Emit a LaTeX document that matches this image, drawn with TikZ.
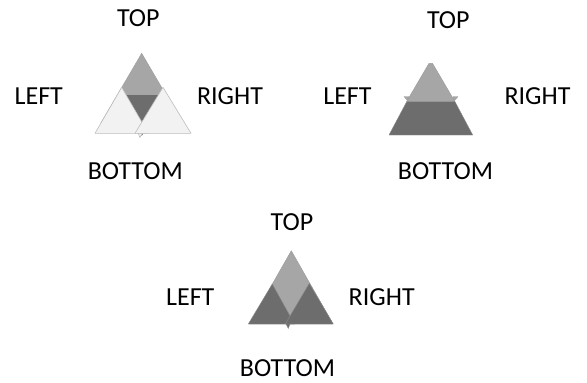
\documentclass[tikz,border=0pt]{standalone}
\usepackage{fontspec}
\setmainfont{Carlito}
\definecolor{lightfill}{HTML}{F2F2F2}
\definecolor{lightline}{HTML}{BDBDBD}
\definecolor{midgray}{HTML}{A6A6A6}
\definecolor{midline}{HTML}{9C9C9C}
\definecolor{darkgray}{HTML}{6D6D6D}
\definecolor{darkline}{HTML}{8C8C8C}
\tikzset{
  lbl/.style={inner sep=0pt, anchor=base, font=\fontsize{26}{30}\selectfont},
  lightpc/.style={fill=lightfill, draw=lightline, line width=0.6pt, line join=round},
  midpc/.style={fill=midgray, draw=midline, line width=0.4pt, line join=round},
  darkpc/.style={fill=darkgray, draw=darkline, line width=0.4pt, line join=round},
}
\begin{document}
\begin{tikzpicture}[x=1pt,y=-1pt]
\useasboundingbox (0,0) rectangle (587,383);
% ---------- Figure 1 ----------
\fill[midgray, draw=midline, line width=0.4pt] (141.7,53.3) -- (100.9,123) -- (182.5,123) -- cycle;
\fill[darkgray] (117.5,95) -- (166,95) -- (141.8,136) -- cycle;
\path[lightpc] (121.7,87.3) -- (95,133.3) -- (148.4,133.3) -- cycle;
\path[lightpc] (163,87.3) -- (135,133.3) -- (191,133.3) -- cycle;
\path[lightpc] (138.3,133.3) -- (142.5,133.3) -- (139.8,137.5) -- cycle;
\node[lbl] (t1) at (138.3,26.7) {TOP};
\node[lbl] (l1) at (38.8,104) {LEFT};
\node[lbl] (r1) at (230,104) {RIGHT};
\node[lbl] (b1) at (135.3,179) {BOTTOM};
% ---------- Figure 2 ----------
\path[midpc] (404,96.5) -- (409,96.5) -- (408.5,101.7) -- cycle;
\path[midpc] (453,96.5) -- (458,96.5) -- (453.5,101.7) -- cycle;
\path[midpc] (429,63.3) -- (432.5,63.3) -- (455,101.7) -- (406.5,101.7) -- cycle;
\path[darkpc] (406.7,101.7) -- (455,101.7) -- (472.7,135) -- (389,135) -- cycle;
\node[lbl] (t2) at (448.3,28.5) {TOP};
\node[lbl] (l2) at (347.5,104.3) {LEFT};
\node[lbl] (r2) at (537.5,104.3) {RIGHT};
\node[lbl] (b2) at (445.5,179) {BOTTOM};
% ---------- Figure 3 ----------
\path[midpc] (291.3,250.7) -- (249.5,324) -- (333,324) -- cycle;
\path[darkpc] (272.3,284) -- (248.3,324) -- (294.5,324) -- cycle;
\path[darkpc] (309.3,283.3) -- (285.3,324) -- (333.3,324) -- cycle;
\path[darkpc] (286,324) -- (290,324) -- (288.3,328.5) -- cycle;
\node[lbl] (t3) at (292,230.7) {TOP};
\node[lbl] (l3) at (190.3,305) {LEFT};
\node[lbl] (r3) at (381.7,305) {RIGHT};
\node[lbl] (b3) at (287.5,376.5) {BOTTOM};
\end{tikzpicture}
\end{document}
